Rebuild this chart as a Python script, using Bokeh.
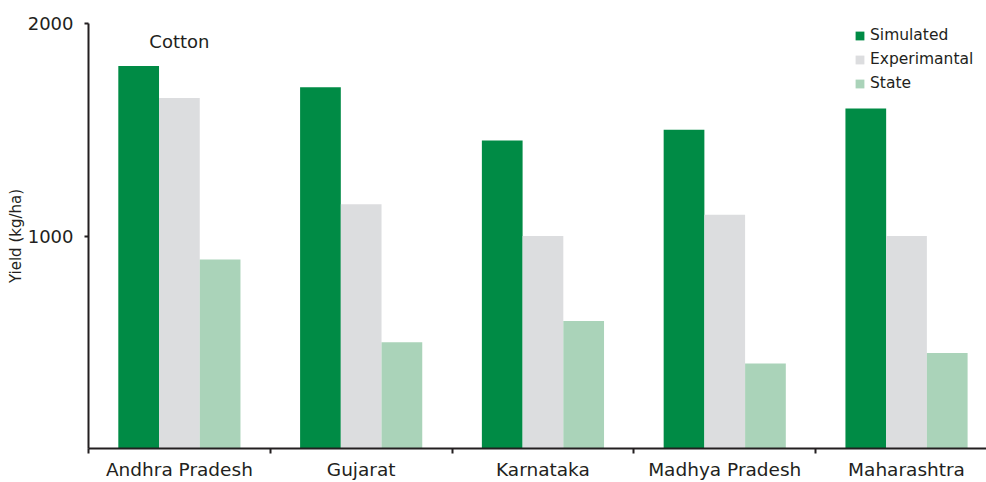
from bokeh.plotting import figure
from bokeh.models import (ColumnDataSource, FixedTicker, Range1d, Legend,
                          LegendItem, Label)
from bokeh.transform import dodge
from bokeh.embed import file_html
from bokeh.resources import INLINE

# Cotton yield by state (kg/ha)
states = ["Andhra Pradesh", "Gujarat", "Karnataka", "Madhya Pradesh", "Maharashtra"]
simulated = [1800, 1700, 1450, 1500, 1600]
experimental = [1650, 1150, 1000, 1100, 1000]
state_avg = [890, 500, 600, 400, 450]
y_ticks = [1000, 2000]
series_names = ["Simulated", "Experimantal", "State"]
series_colors = ["#008B45", "#DCDDDF", "#AAD3B9"]

TEXT = "#231F20"
FONT = "DejaVu Sans"

centers = [i + 0.5 for i in range(len(states))]
src = ColumnDataSource(dict(pos=centers, simulated=simulated,
                            experimental=experimental, state=state_avg))

p = figure(width=986, height=482,
           x_range=Range1d(0, 4.94), y_range=Range1d(0, 2000),
           output_backend="svg", toolbar_location=None,
           min_border_left=88, min_border_right=0,
           min_border_top=23, min_border_bottom=34)
p.outline_line_color = None
p.xgrid.visible = False
p.ygrid.visible = False
p.background_fill_color = "white"
p.border_fill_color = "white"

bw = 0.224
renderers = []
for col, off, color in zip(["simulated", "experimental", "state"],
                           [-bw, 0.0, bw], series_colors):
    r = p.vbar(x=dodge("pos", off, range=p.x_range), top=col, bottom=0,
               width=bw, source=src, fill_color=color, line_color=None)
    renderers.append(r)

# x axis: labels at group centres, tick marks at group boundaries
xa = p.xaxis[0]
xa.ticker = FixedTicker(ticks=centers, minor_ticks=list(range(len(states) + 1)))
xa.major_label_overrides = {c: s for c, s in zip(centers, states)}
xa.major_tick_out = 0
xa.major_tick_in = 0
xa.minor_tick_out = 5
xa.minor_tick_in = 0
xa.minor_tick_line_color = TEXT
xa.minor_tick_line_width = 2
xa.axis_line_color = TEXT
xa.axis_line_width = 2
xa.major_label_standoff = 5
xa.major_label_text_font = FONT
xa.major_label_text_font_size = "18.5px"
xa.major_label_text_color = TEXT

ya = p.yaxis[0]
ya.ticker = FixedTicker(ticks=y_ticks, minor_ticks=[])
ya.major_tick_out = 4
ya.major_tick_in = 0
ya.major_tick_line_color = TEXT
ya.major_tick_line_width = 2
ya.axis_line_color = TEXT
ya.axis_line_width = 2
ya.major_label_standoff = 11
ya.major_label_text_font = FONT
ya.major_label_text_font_size = "18px"
ya.major_label_text_color = TEXT
ya.axis_label = "Yield (kg/ha)"
ya.axis_label_text_font = FONT
ya.axis_label_text_font_size = "15px"
ya.axis_label_text_font_style = "normal"
ya.axis_label_text_color = TEXT
ya.axis_label_standoff = 0

p.add_layout(Label(x=0.5, y=1915, text="Cotton", text_align="center",
                   text_baseline="middle", text_font=FONT,
                   text_font_size="18px", text_color=TEXT))

legend = Legend(items=[LegendItem(label=n, renderers=[r])
                       for n, r in zip(series_names, renderers)],
                location=(766, 355), padding=0, margin=0,
                border_line_color=None, background_fill_alpha=0,
                glyph_width=11, glyph_height=11, label_height=20,
                spacing=4, label_standoff=5,
                label_text_font=FONT, label_text_font_size="15.5px",
                label_text_color=TEXT)
p.add_layout(legend)

open("out.html", "w").write(file_html(p, INLINE))
